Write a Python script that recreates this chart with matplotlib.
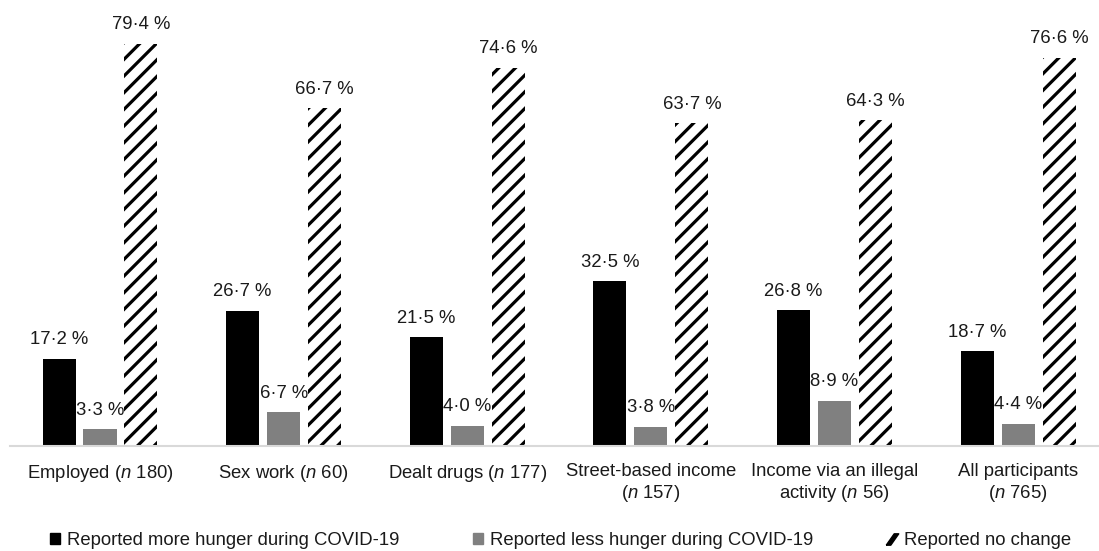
import matplotlib.pyplot as plt
import numpy as np
from matplotlib.lines import Line2D
from matplotlib.patches import Patch

plt.rcParams['font.family'] = ['Liberation Sans', 'DejaVu Sans']
plt.rcParams['mathtext.fontset'] = 'custom'
plt.rcParams['mathtext.rm'] = 'Liberation Sans'
plt.rcParams['mathtext.it'] = 'Liberation Sans:italic'
plt.rcParams['hatch.linewidth'] = 2.3

# groups along the x axis
groups = [
    'Employed ($n$ 180)',
    'Sex work ($n$ 60)',
    'Dealt drugs ($n$ 177)',
    'Street-based income\n($n$ 157)',
    'Income via an illegal\nactivity ($n$ 56)',
    'All participants\n($n$ 765)',
]

# percentages per series
more_hunger = [17.2, 26.7, 21.5, 32.5, 26.8, 18.7]
less_hunger = [3.3, 6.7, 4.0, 3.8, 8.9, 4.4]
no_change = [79.4, 66.7, 74.6, 63.7, 64.3, 76.6]

series_names = [
    'Reported more hunger during COVID-19',
    'Reported less hunger during COVID-19',
    'Reported no change',
]

FS = 13.3

fig = plt.figure(figsize=(10.99, 5.51), dpi=100)
ax = fig.add_axes([10 / 1099, 105 / 551, 1089 / 1099, 446 / 551])

x = np.arange(len(groups))
w = 0.18
step = 0.223

b1 = ax.bar(x - step, more_hunger, w, color='black')
b2 = ax.bar(x, less_hunger, w, color='#808080')
b3 = ax.bar(x + step, no_change, w, color='white', edgecolor='black',
            linewidth=0, hatch='//')


def fmt(v):
    return f'{v:.1f}'.replace('.', '\u00b7') + ' %'


for bars, vals in [(b1, more_hunger), (b2, less_hunger), (b3, no_change)]:
    for rect, v in zip(bars, vals):
        ax.annotate(fmt(v), (rect.get_x() + rect.get_width() / 2, v),
                    xytext=(0, 7.5), textcoords='offset points',
                    ha='center', va='bottom', fontsize=FS, color='#1a1a1a')

ax.set_xlim(-0.49, 5.44)
ax.set_ylim(0, 88)
ax.set_xticks(x)
ax.set_xticklabels(groups, fontsize=FS, color='#1a1a1a', linespacing=1.2)
ax.tick_params(axis='x', length=0, pad=12.5)
ax.set_yticks([])
for s in ['top', 'right', 'left']:
    ax.spines[s].set_visible(False)
ax.spines['bottom'].set_color('#d9d9d9')
ax.spines['bottom'].set_linewidth(1.5)

# slash marker for the hatched series
slash = [(-0.55, -0.5), (-0.15, -0.5), (0.55, 0.5), (0.15, 0.5), (-0.55, -0.5)]
handles = [
    Patch(facecolor='black', edgecolor='black'),
    Patch(facecolor='#808080', edgecolor='#808080'),
    Line2D([], [], marker=slash, linestyle='none', color='black', markersize=9),
]
fig.legend(handles, series_names, loc='center', bbox_to_anchor=(0.51, 10.5 / 551),
           ncol=3, frameon=False, fontsize=FS, handlelength=0.55, handleheight=0.55,
           handletextpad=0.35, columnspacing=4.0, labelcolor='#1a1a1a',
           borderaxespad=0, borderpad=0)

fig.savefig('out.png', dpi=100)
